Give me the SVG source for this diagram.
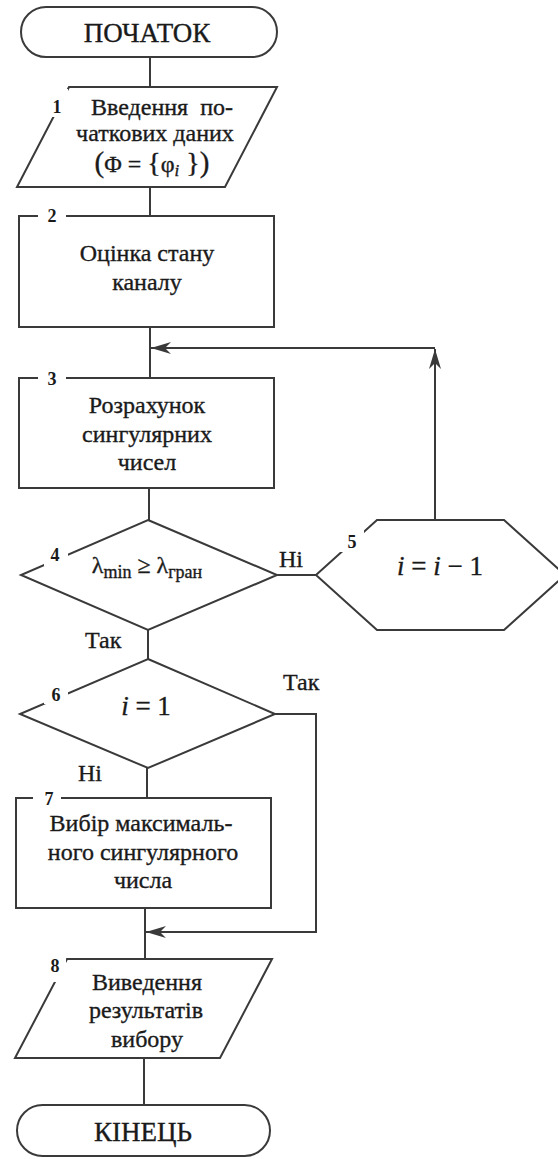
<svg xmlns="http://www.w3.org/2000/svg" width="558" height="1159" viewBox="0 0 558 1159">
<style>
.s{fill:#fff;stroke:#3a3a3a;stroke-width:2}
.c{fill:none;stroke:#3a3a3a;stroke-width:2}
.t{font-family:"Liberation Serif","Times New Roman",serif;font-size:24px;fill:#1a1a1a;stroke:#1a1a1a;stroke-width:0.35;text-anchor:middle}
.big{font-size:27px}
.n{font-family:"Liberation Serif","Times New Roman",serif;font-size:18px;font-weight:bold;fill:#1a1a1a;text-anchor:middle}
.g{fill:#fff;stroke:none}
.l{font-family:"Liberation Serif","Times New Roman",serif;font-size:24px;fill:#1a1a1a;stroke:#1a1a1a;stroke-width:0.35}
</style>
<defs>
<marker id="ah" viewBox="0 0 20 12" refX="20" refY="6" markerWidth="20" markerHeight="12" markerUnits="userSpaceOnUse" orient="auto">
<path d="M0,0 L20,6 L0,12 L6,6 Z" fill="#3a3a3a"/>
</marker>
</defs>
<g id="connectors">
<path class="c" d="M150,57 V87"/>
<path class="c" d="M150,187 V216"/>
<path class="c" d="M150,327 V378"/>
<path class="c" d="M149,488 V520"/>
<path class="c" d="M277,575 H316"/>
<path class="c" d="M435,520 V349" marker-end="url(#ah)"/>
<path class="c" d="M435,348 H151" marker-end="url(#ah)"/>
<path class="c" d="M148,630 V659"/>
<path class="c" d="M275,714 H316 V932 H146" marker-end="url(#ah)"/>
<path class="c" d="M147,768 V798"/>
<path class="c" d="M145,908 V959"/>
<path class="c" d="M144,1058 V1105"/>
<text class="l" x="279" y="567">Ні</text>
<text class="l" x="85" y="648">Так</text>
<text class="l" x="283" y="690">Так</text>
<text class="l" x="78" y="781">Ні</text>
</g>
<g id="start">
<rect class="s" x="21" y="7" width="256" height="50" rx="25" ry="25"/>
<text class="t big" x="147" y="42">ПОЧАТОК</text>
</g>
<g id="node1">
<polygon class="s" points="69,87 277,87 225,187 17,187"/>
<rect class="g" x="48" y="89" width="20" height="28"/>
<text class="n" x="57" y="113">1</text>
<text class="t" x="162" y="115" word-spacing="6">Введення по-</text>
<text class="t" x="155" y="141">чаткових даних</text>
<text class="t" x="152" y="172" font-size="26"><tspan font-size="29">(</tspan>Φ = <tspan font-size="28">{</tspan>φ<tspan font-style="italic" font-size="17" dy="4">i</tspan><tspan dy="-4" font-size="28"> }</tspan><tspan font-size="29">)</tspan></text>
</g>
<g id="node2">
<rect class="s" x="19" y="216" width="255" height="111"/>
<rect class="g" x="38" y="206" width="28" height="18"/>
<text class="n" x="52" y="222">2</text>
<text class="t" x="147" y="261">Оцінка стану</text>
<text class="t" x="147" y="290">каналу</text>
</g>
<g id="node3">
<rect class="s" x="19" y="378" width="255" height="110"/>
<rect class="g" x="38" y="368" width="28" height="18"/>
<text class="n" x="52" y="385">3</text>
<text class="t" x="147" y="413">Розрахунок</text>
<text class="t" x="147" y="442">сингулярних</text>
<text class="t" x="147" y="470">чисел</text>
</g>
<g id="node4">
<polygon class="s" points="148,520 277,575 148,630 21,575"/>
<rect class="g" x="44" y="546" width="24" height="20"/>
<text class="n" x="55" y="561">4</text>
<text class="t" x="147" y="573" font-size="26">λ<tspan font-size="18" dy="5">min</tspan><tspan dy="-5"> ≥ λ</tspan><tspan font-size="18" dy="5">гран</tspan></text>
</g>
<g id="node5">
<polygon class="s" points="316,575 377,520 504,520 565,575 504,630 377,630"/>
<rect class="g" x="340" y="530" width="24" height="22"/>
<text class="n" x="352" y="548">5</text>
<text class="t big" x="440" y="575" font-size="28"><tspan font-style="italic">i</tspan> = <tspan font-style="italic">i</tspan> − 1</text>
</g>
<g id="node6">
<polygon class="s" points="148,659 275,714 148,768 20,714"/>
<rect class="g" x="44" y="684" width="24" height="20"/>
<text class="n" x="56" y="701">6</text>
<text class="t big" x="146" y="715"><tspan font-style="italic">i</tspan> = 1</text>
</g>
<g id="node7">
<rect class="s" x="16" y="798" width="255" height="110"/>
<rect class="g" x="33" y="788" width="28" height="18"/>
<text class="n" x="49" y="805">7</text>
<text class="t" x="141" y="831">Вибір максималь-</text>
<text class="t" x="143" y="860">ного сингулярного</text>
<text class="t" x="143" y="888">числа</text>
</g>
<g id="node8">
<polygon class="s" points="67,959 272,959 220,1058 15,1058"/>
<rect class="g" x="44" y="955" width="22" height="27"/>
<text class="n" x="55" y="972">8</text>
<text class="t" x="147" y="990">Виведення</text>
<text class="t" x="146" y="1018">результатів</text>
<text class="t" x="147" y="1047">вибору</text>
</g>
<g id="end">
<rect class="s" x="17" y="1105" width="253" height="51" rx="25.5" ry="25.5"/>
<text class="t big" x="143" y="1141">КІНЕЦЬ</text>
</g>
</svg>
